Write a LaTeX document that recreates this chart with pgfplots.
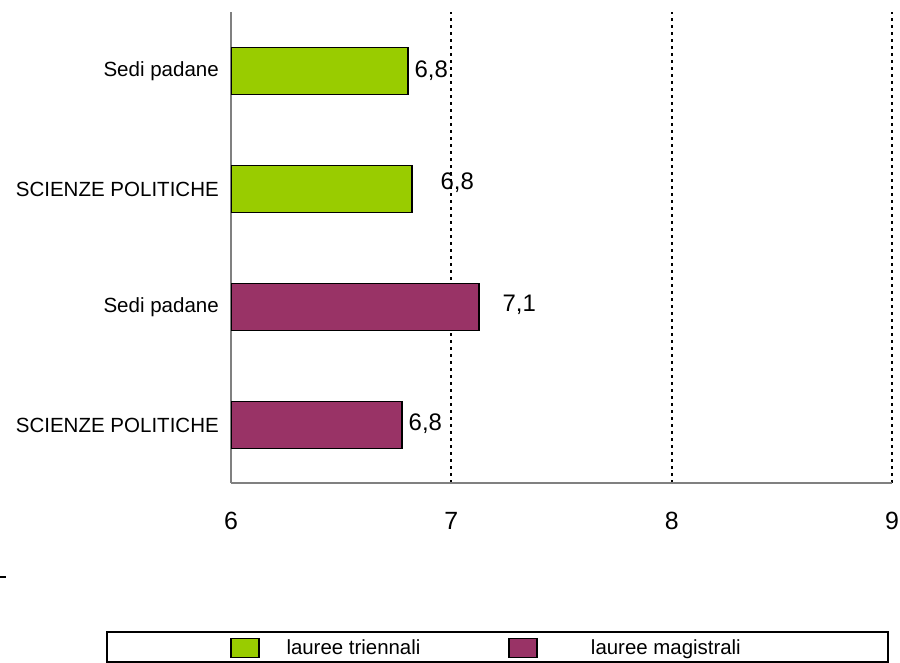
\documentclass[border=0pt]{standalone}
\usepackage{pgfplots}
\pgfplotsset{compat=1.18}
\usepackage{pgfplotstable}
\usepackage{fontspec}
\setmainfont{Liberation Sans}
\definecolor{verde}{HTML}{99CC00}
\definecolor{viola}{HTML}{993366}

\pgfplotstableread{
x y lab dx dy
6.776 0 6,8 6 1
7.125 1 7,1 23 2
}\magistrali
\pgfplotstableread{
x y lab dx dy
6.821 2 6,8 28 6
6.803 3 6,8 6 0
}\triennali

\begin{document}
\begin{tikzpicture}[x=1bp,y=1bp]
\useasboundingbox (0,0) rectangle (900,663);
\begin{axis}[
  at={(231bp,180bp)}, anchor=south west,
  scale only axis, width=661bp, height=471bp,
  xmin=6, xmax=9, ymin=-0.49, ymax=3.5,
  xbar, bar width=47bp, bar shift=0pt,
  axis lines*=left,
  axis line style={draw=gray, line width=1.2bp},
  xtick={7,8,9}, extra x ticks={6}, extra x tick style={grid=none},
  xmajorgrids,
  grid style={black, line width=2bp, dash pattern=on 3bp off 4bp},
  major tick length=0pt,
  ytick={0,1,2,3},
  yticklabels={SCIENZE POLITICHE,Sedi padane,SCIENZE POLITICHE,Sedi padane},
  yticklabel style={font=\fontsize{20.6}{24}\selectfont, inner xsep=0pt, xshift=-12bp},
  xticklabel style={font=\fontsize{25}{30}\selectfont, inner sep=0pt, yshift=-29bp},
  /pgf/number format/assume math mode=true,
  nodes near coords, point meta=explicit symbolic,
  visualization depends on={\thisrow{dx}\as\dx},
  visualization depends on={\thisrow{dy}\as\dy},
  nodes near coords style={anchor=west, inner sep=0pt, xshift=\dx*1bp, yshift=\dy*1bp, font=\fontsize{24}{28}\selectfont, text=black},
  legend image code/.code={\draw[#1, draw=black, line width=1.5bp] (0bp,-9.5bp) rectangle (28bp,9.5bp);},
  legend style={at={(-0.00151,-0.3503)}, anchor=west, draw=none, fill=none,
    inner sep=0pt, outer sep=0pt, legend columns=2,
    /tikz/column 1/.append style={column sep=27bp},
    /tikz/column 2/.append style={column sep=88bp},
    /tikz/column 3/.append style={column sep=53bp},
    nodes={inner sep=0pt, font=\fontsize{20.5}{24}\selectfont}},
  legend cell align=left,
]
\addplot[fill=verde, draw=black, line width=1.5bp] table[x=x, y=y, meta=lab] {\triennali};
\addlegendentry{lauree triennali}
\addplot[fill=viola, draw=black, line width=1.5bp] table[x=x, y=y, meta=lab] {\magistrali};
\addlegendentry{lauree magistrali}
\end{axis}
\draw[line width=1.5bp] (0,86) -- (6,86);
\draw[line width=1.5bp] (107,1) rectangle (888,31);
\end{tikzpicture}
\end{document}
